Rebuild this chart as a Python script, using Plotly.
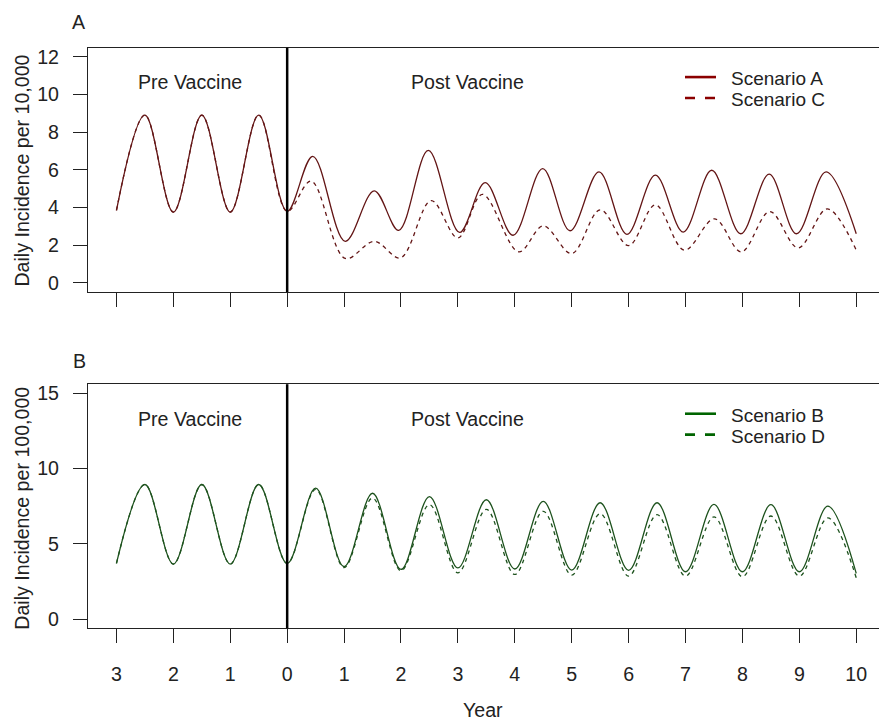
import plotly.graph_objects as go

# ---------------- data ----------------
PRE_YEARS = [-3, -2.5, -2, -1.5, -1, -0.5, 0]

# Panel A (per 10,000)
PRE_A = [3.85, 8.91, 3.76, 8.91, 3.76, 8.91, 3.80]
POST_A_YEARS = [0.45, 1.02, 1.53, 1.96, 2.48, 3.03, 3.48, 3.97, 4.49, 4.97,
                5.48, 5.97, 6.47, 6.96, 7.46, 7.97, 8.47, 8.95, 9.47, 10.0]
POST_A = [6.72, 2.21, 4.89, 2.79, 7.03, 2.68, 5.32, 2.53, 6.07, 2.77,
          5.89, 2.58, 5.72, 2.70, 5.98, 2.61, 5.77, 2.61, 5.89, 2.61]
POST_C_YEARS = [0.42, 1.02, 1.53, 1.99, 2.53, 3.0, 3.43, 4.07, 4.5, 5.0,
                5.5, 6.0, 6.47, 6.98, 7.51, 7.98, 8.48, 8.98, 9.49, 10.0]
POST_C = [5.40, 1.30, 2.21, 1.33, 4.37, 2.39, 4.70, 1.65, 3.03, 1.56,
          3.88, 1.98, 4.14, 1.74, 3.40, 1.65, 3.79, 1.86, 3.93, 1.74]

# Panel B (per 100,000)
PRE_B = [3.70, 8.94, 3.66, 8.94, 3.66, 8.94, 3.70]
POST_BD_YEARS = [0.5, 1, 1.5, 2, 2.5, 3, 3.5, 4, 4.5, 5,
                 5.5, 6, 6.5, 7, 7.5, 8, 8.5, 9, 9.5, 10]
POST_B = [8.70, 3.48, 8.36, 3.30, 8.14, 3.40, 7.93, 3.33, 7.82, 3.26,
          7.73, 3.24, 7.73, 3.15, 7.62, 3.15, 7.60, 3.15, 7.51, 3.04]
POST_D = [8.62, 3.42, 8.04, 3.22, 7.60, 3.08, 7.29, 2.97, 7.16, 2.93,
          7.00, 2.86, 6.94, 2.86, 6.79, 2.82, 6.85, 2.86, 6.72, 2.75]

X_TICK_VALUES = list(range(-3, 11))
X_TICK_LABELS = ["3", "2", "1", "0", "1", "2", "3", "4", "5", "6", "7", "8", "9", "10"]
Y_TICKS_A = [0, 2, 4, 6, 8, 10, 12]
Y_TICKS_B = [0, 5, 10, 15]

SERIES_NAMES = ["Scenario A", "Scenario C", "Scenario B", "Scenario D"]
RED = "#8B0000"
GREEN = "#006400"
RED_CURVE = "#631515"
GREEN_CURVE = "#1d521d"
TXT = "#222222"
FONT = "Liberation Sans, Arial, sans-serif"
FS = 19.6
FS_LEG = 19

W, H = 879, 725


def px(y):
    return 1 - y / H


fig = go.Figure()

# Panel A traces
fig.add_trace(go.Scatter(x=PRE_YEARS + POST_C_YEARS, y=PRE_A + POST_C, mode="lines",
                         line=dict(color=RED_CURVE, width=1.3, dash="4px,4px", shape="spline", smoothing=1),
                         name=SERIES_NAMES[1], xaxis="x", yaxis="y"))
fig.add_trace(go.Scatter(x=PRE_YEARS + POST_A_YEARS, y=PRE_A + POST_A, mode="lines",
                         line=dict(color=RED_CURVE, width=1.3, shape="spline", smoothing=1),
                         name=SERIES_NAMES[0], xaxis="x", yaxis="y"))
# Panel B traces
fig.add_trace(go.Scatter(x=PRE_YEARS + POST_BD_YEARS, y=PRE_B + POST_D, mode="lines",
                         line=dict(color=GREEN_CURVE, width=1.3, dash="4px,4px", shape="spline", smoothing=1),
                         name=SERIES_NAMES[3], xaxis="x2", yaxis="y2"))
fig.add_trace(go.Scatter(x=PRE_YEARS + POST_BD_YEARS, y=PRE_B + POST_B, mode="lines",
                         line=dict(color=GREEN_CURVE, width=1.3, shape="spline", smoothing=1),
                         name=SERIES_NAMES[2], xaxis="x2", yaxis="y2"))

xdom = [88 / W, 1.0]
xrange = [-3.5, 10.40]
common_x = dict(range=xrange, domain=xdom, showgrid=False, zeroline=False, showline=True,
                mirror=True, linecolor=TXT, linewidth=1.2, ticks="outside", ticklen=14,
                tickwidth=1.2, tickcolor=TXT, tickvals=X_TICK_VALUES, ticktext=X_TICK_LABELS,
                tickfont=dict(family=FONT, size=FS, color=TXT), fixedrange=True)
common_y = dict(showgrid=False, zeroline=False, showline=True, mirror=False, linecolor=TXT,
                linewidth=1.2, ticks="outside", ticklen=14, tickwidth=1.2, tickcolor=TXT,
                tickfont=dict(family=FONT, size=FS, color=TXT), ticklabelstandoff=10,
                fixedrange=True)

fig.update_layout(
    width=W, height=H,
    margin=dict(l=0, r=0, t=0, b=0),
    paper_bgcolor="white", plot_bgcolor="white",
    showlegend=False,
    xaxis=dict(common_x, anchor="y", showticklabels=False),
    yaxis=dict(common_y, anchor="x", domain=[px(291.6), px(46)], range=[-0.48, 12.48],
               tickvals=Y_TICKS_A),
    xaxis2=dict(common_x, anchor="y2", showticklabels=True, ticklabelstandoff=14),
    yaxis2=dict(common_y, anchor="x2", domain=[px(629.7), px(384.3)], range=[-0.6, 15.6],
                tickvals=Y_TICKS_B),
)

# vertical line at vaccine start
for xr, yr in (("x", "y domain"), ("x2", "y2 domain")):
    fig.add_shape(type="line", xref=xr, yref=yr, x0=0, x1=0, y0=0, y1=1,
                  line=dict(color="black", width=2.5))


def ann(text, x, y, size=FS, **kw):
    d = dict(text=text, x=x / W, y=px(y), xref="paper", yref="paper", showarrow=False,
             font=dict(family=FONT, size=size, color=TXT), xanchor="center", yanchor="middle")
    d.update(kw)
    fig.add_annotation(**d)


ann("A", 79, 20.5)
ann("B", 79.5, 360.5)
ann("Pre Vaccine", 190, 80.5)
ann("Post Vaccine", 467, 80.5)
ann("Pre Vaccine", 190, 419)
ann("Post Vaccine", 467, 419)
ann("Year", 483, 711.5)
ann("Daily Incidence per 10,000", 22.5, 170, textangle=-90)
ann("Daily Incidence per 100,000", 22.5, 509, textangle=-90)

# manual legends
legend_rows = [
    (SERIES_NAMES[0], RED, None, 75.5),
    (SERIES_NAMES[1], RED, "10px,10px", 96.5),
    (SERIES_NAMES[2], GREEN, None, 414),
    (SERIES_NAMES[3], GREEN, "10px,10px", 435),
]
for name, col, dash, yy in legend_rows:
    fig.add_shape(type="line", xref="paper", yref="paper", x0=685 / W, x1=716 / W,
                  y0=px(yy), y1=px(yy), line=dict(color=col, width=2.6, dash=dash or "solid"))
    ann(name, 728.5, yy + 1.5, size=FS_LEG, xanchor="left")

fig.write_html("out.html")
